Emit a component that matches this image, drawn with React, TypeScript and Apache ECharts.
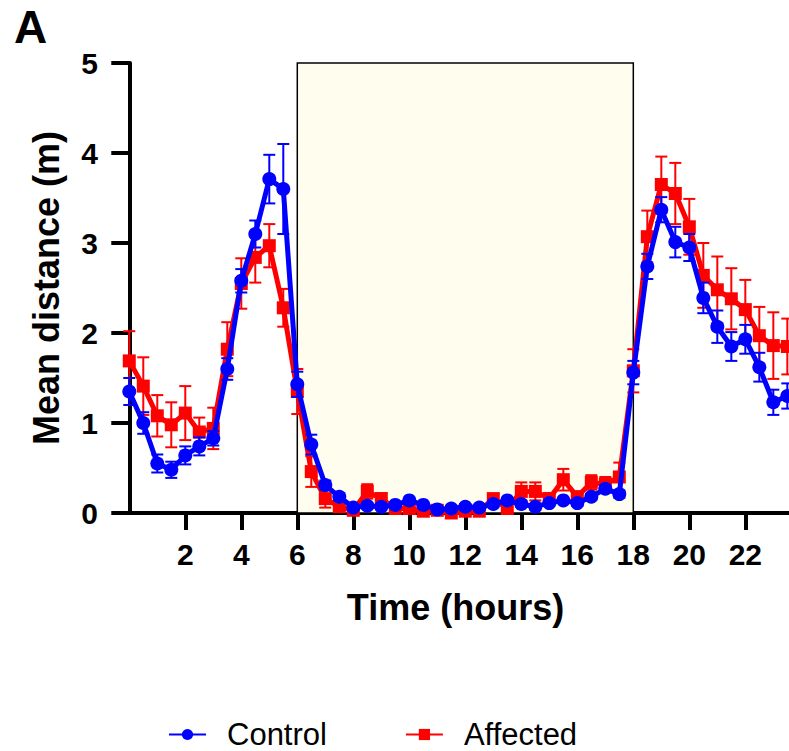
import React, { useEffect, useRef } from "react";
import * as echarts from "echarts";

const hours = [
  0, 0.5, 1, 1.5, 2, 2.5, 3, 3.5, 4, 4.5, 5, 5.5, 6, 6.5, 7, 7.5, 8, 8.5, 9, 9.5,
  10, 10.5, 11, 11.5, 12, 12.5, 13, 13.5, 14, 14.5, 15, 15.5, 16, 16.5, 17, 17.5,
  18, 18.5, 19, 19.5, 20, 20.5, 21, 21.5, 22, 22.5, 23, 23.5,
];

const controlMean = [
  1.35, 1.0, 0.55, 0.48, 0.64, 0.74, 0.83, 1.6, 2.58, 3.1, 3.71, 3.6, 1.43, 0.76, 0.31, 0.18,
  0.06, 0.08, 0.07, 0.09, 0.14, 0.09, 0.04, 0.05, 0.07, 0.06, 0.1, 0.14, 0.1, 0.07,
  0.11, 0.14, 0.11, 0.18, 0.27, 0.21, 1.56, 2.74, 3.37, 3.01, 2.95, 2.39, 2.07, 1.85,
  1.93, 1.62, 1.23, 1.3,
];
const controlErr = [
  0.15, 0.12, 0.1, 0.09, 0.1, 0.1, 0.08, 0.12, 0.13, 0.15, 0.27, 0.5, 0.14, 0.11, 0.05, 0.04,
  0.03, 0.03, 0.03, 0.03, 0.03, 0.03, 0.03, 0.03, 0.03, 0.03, 0.03, 0.03, 0.03, 0.03,
  0.03, 0.03, 0.03, 0.03, 0.04, 0.04, 0.13, 0.14, 0.14, 0.17, 0.15, 0.17, 0.18, 0.16,
  0.16, 0.16, 0.14, 0.14,
];
const affectedMean = [
  1.69, 1.41, 1.08, 0.98, 1.11, 0.9, 0.94, 1.82, 2.55, 2.84, 2.97, 2.28, 1.35, 0.46, 0.16, 0.07,
  0.03, 0.24, 0.16, 0.05, 0.05, 0.02, 0.03, 0.0, 0.02, 0.02, 0.16, 0.05, 0.24, 0.24,
  0.16, 0.37, 0.18, 0.34, 0.32, 0.4, 1.58, 3.07, 3.65, 3.55, 3.18, 2.64, 2.48, 2.38,
  2.26, 1.97, 1.86, 1.85,
];
const affectedErr = [
  0.33, 0.32, 0.23, 0.25, 0.3, 0.16, 0.23, 0.3, 0.28, 0.28, 0.24, 0.21, 0.25, 0.17, 0.1, 0.05,
  0.05, 0.08, 0.06, 0.04, 0.04, 0.05, 0.04, 0.04, 0.05, 0.04, 0.05, 0.05, 0.1, 0.1,
  0.06, 0.12, 0.06, 0.08, 0.08, 0.16, 0.24, 0.29, 0.31, 0.34, 0.31, 0.36, 0.37, 0.34,
  0.33, 0.32, 0.37, 0.31,
];
const xTickValues = [2, 4, 6, 8, 10, 12, 14, 16, 18, 20, 22];
const darkPeriod = [6, 18];

const FONT = "'Liberation Sans', Arial, Helvetica, sans-serif";

export default function App() {
  const ref = useRef<HTMLDivElement>(null);
  useEffect(() => {
    document.body.style.margin = "0";
    const chart = echarts.init(ref.current!, null, { renderer: "svg" });
    const lineData = (m: number[]) => hours.map((h, i) => [h, m[i]]);
    const errData = (m: number[], e: number[]) =>
      hours.map((h, i) => [h, Math.max(0, m[i] - e[i]), m[i] + e[i]]);
    const errRender = (color: string) => (params: any, api: any) => {
      const x = api.value(0);
      const lo = api.coord([x, api.value(1)]);
      const hi = api.coord([x, api.value(2)]);
      const hw = 6;
      const style = { stroke: color, lineWidth: 2 };
      return {
        type: "group",
        children: [
          { type: "line", shape: { x1: lo[0], y1: lo[1], x2: hi[0], y2: hi[1] }, style },
          { type: "line", shape: { x1: hi[0] - hw, y1: hi[1], x2: hi[0] + hw, y2: hi[1] }, style },
          { type: "line", shape: { x1: lo[0] - hw, y1: lo[1], x2: lo[0] + hw, y2: lo[1] }, style },
        ],
      };
    };
    chart.setOption({
      animation: false,
      backgroundColor: "#ffffff",
      textStyle: { fontFamily: FONT },
      graphic: [
        {
          type: "text",
          left: 14,
          top: 4,
          style: { text: "A", font: `bold 46px ${FONT}`, fill: "#000" },
        },
      ],
      grid: { left: 122, right: 0, top: 63, bottom: 238, containLabel: false },
      legend: {
        left: 163,
        top: 714,
        itemWidth: 37,
        itemHeight: 14,
        itemGap: 78,
        data: ["Control", "Affected"],
        textStyle: {
          fontSize: 31,
          lineHeight: 30,
          color: "#000",
          fontFamily: FONT,
          padding: [0, 0, 0, 16],
        },
      },
      xAxis: {
        type: "value",
        min: -0.26,
        max: 23.56,
        name: "Time (hours)",
        nameLocation: "middle",
        nameGap: 76,
        nameTextStyle: { fontSize: 36, fontWeight: "bold", color: "#000", fontFamily: FONT },
        axisLine: { lineStyle: { color: "#000", width: 4 } },
        axisTick: { customValues: xTickValues, length: 17, lineStyle: { color: "#000", width: 4 } },
        axisLabel: {
          customValues: xTickValues,
          fontSize: 30,
          fontWeight: "bold",
          color: "#000",
          margin: 26,
          fontFamily: FONT,
        },
        splitLine: { show: false },
      },
      yAxis: {
        type: "value",
        min: 0,
        max: 5,
        interval: 1,
        name: "Mean distance (m)",
        nameLocation: "middle",
        nameGap: 58,
        nameTextStyle: { fontSize: 36, fontWeight: "bold", color: "#000", fontFamily: FONT },
        axisLine: { show: true, lineStyle: { color: "#000", width: 4 } },
        axisTick: { show: true, length: 18, lineStyle: { color: "#000", width: 4 } },
        axisLabel: { fontSize: 30, fontWeight: "bold", color: "#000", margin: 24, fontFamily: FONT },
        splitLine: { show: false },
      },
      series: [
        {
          name: "DarkPeriod",
          type: "line",
          data: [],
          silent: true,
          z: 1,
          markArea: {
            silent: true,
            itemStyle: { color: "#fefdee", borderColor: "#000", borderWidth: 1.5 },
            data: [[{ xAxis: darkPeriod[0], yAxis: 0 }, { xAxis: darkPeriod[1], yAxis: 5 }]],
          },
        },
        {
          name: "AffectedErr",
          type: "custom",
          renderItem: errRender("#ff0000"),
          data: errData(affectedMean, affectedErr),
          encode: { x: 0, y: [1, 2] },
          z: 2,
          silent: true,
        },
        {
          name: "Affected",
          type: "line",
          data: lineData(affectedMean),
          symbol: "rect",
          symbolSize: 13,
          lineStyle: { color: "#ff0000", width: 5 },
          itemStyle: { color: "#ff0000" },
          z: 3,
        },
        {
          name: "ControlErr",
          type: "custom",
          renderItem: errRender("#0000ff"),
          data: errData(controlMean, controlErr),
          encode: { x: 0, y: [1, 2] },
          z: 4,
          silent: true,
        },
        {
          name: "Control",
          type: "line",
          data: lineData(controlMean),
          symbol: "circle",
          symbolSize: 14,
          lineStyle: { color: "#0000ff", width: 5 },
          itemStyle: { color: "#0000ff" },
          z: 5,
        },
      ],
    });
    return () => chart.dispose();
  }, []);
  return <div ref={ref} style={{ width: 789, height: 751 }} />;
}
